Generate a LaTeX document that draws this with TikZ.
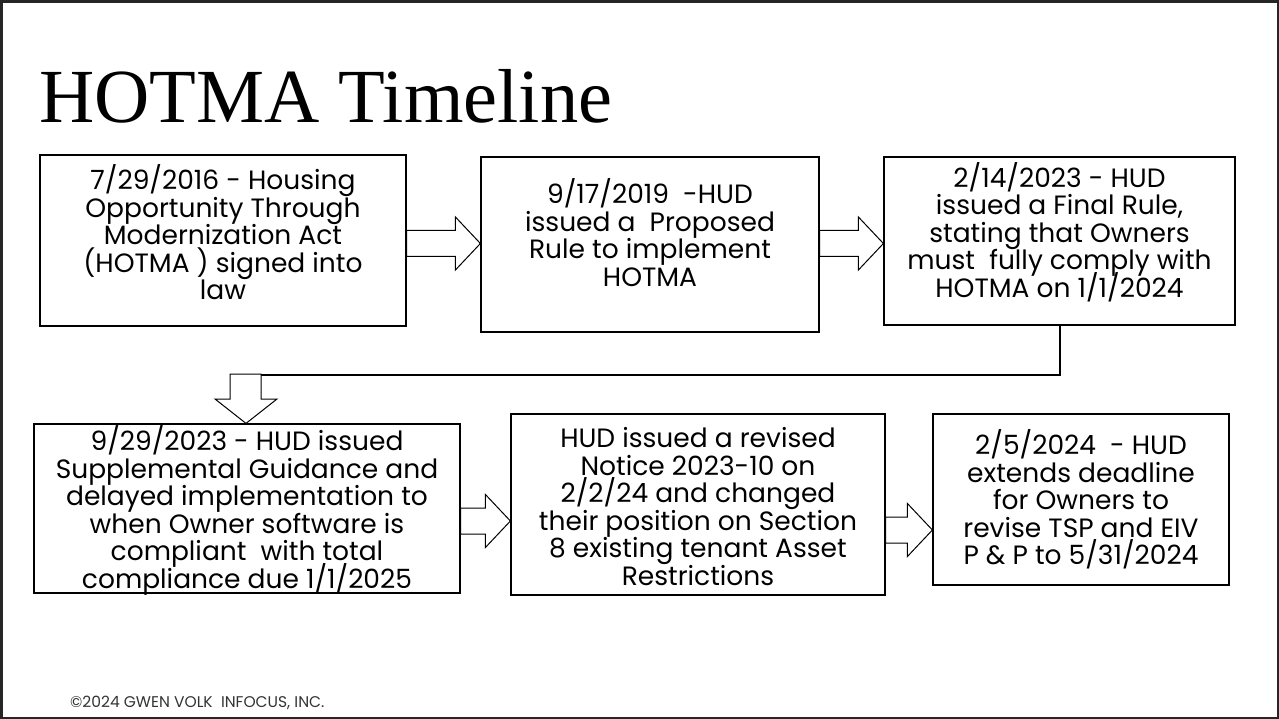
\documentclass[tikz,border=0pt]{standalone}
\usepackage{fontspec}
\setmainfont{Liberation Serif}
\newfontfamily\bodyfont{Poppins}
\usetikzlibrary{calc}
\newcommand\tightlines{\lineskiplimit=-40pt\relax\lineskip=0pt\relax}
\tikzset{
  x=1pt,y=-1pt,
  tbox/.style={draw=black,line width=1.2pt,inner sep=0pt},
  ttext/.style={inner sep=0pt,align=center,
    font=\bodyfont\fontsize{26.5}{27.5}\selectfont\tightlines},
  blk/.style={draw=black,line width=1pt,fill=white,line join=miter},
  elbow/.style={draw=black,line width=2pt},
}
\newcommand\harrow[3]{%
  \draw[blk] let \p1=(#1.east), \p2=(#2.west) in
    (\x1,{#3-13}) -- (\x2-25pt,{#3-13}) -- (\x2-25pt,{#3-26.5}) -- (\x2,{#3})
    -- (\x2-25pt,{#3+26.5}) -- (\x2-25pt,{#3+13}) -- (\x1,{#3+13}) -- cycle;}
\begin{document}
\begin{tikzpicture}
\useasboundingbox (0,0) rectangle (1279,719);
\draw[draw=black!85,line width=2.5pt] (1.25,1.5) rectangle (1277.75,717.75);
\node[anchor=base west,font=\fontsize{76.5}{76.5}\selectfont,inner sep=0pt] (title) at (39,123) {HOTMA Timeline};
% boxes
\node[tbox,minimum width=366,minimum height=171] (b1) at (223,240.5) {};
\node[tbox,minimum width=338,minimum height=175] (b2) at (650,244.5) {};
\node[tbox,minimum width=351,minimum height=168] (b3) at (1059.5,241) {};
\node[tbox,minimum width=426,minimum height=169] (b4) at (247,508.5) {};
\node[tbox,minimum width=374,minimum height=181] (b5) at (698,504.5) {};
\node[tbox,minimum width=296,minimum height=171] (b6) at (1081,499.5) {};
% texts
\node[ttext] (t1) at ($(b1.center)+(0,-8)$)
  {7/29/2016 - Housing\\Opportunity Through\\Modernization Act\\(HOTMA ) signed into\\law};
\node[ttext] (t2) at ($(b2.center)+(0,-12)$)
  {9/17/2019\ \ -HUD\\issued a\ \ Proposed\\Rule to implement\\HOTMA};
\node[ttext] (t3) at ($(b3.center)+(0,-9)$)
  {2/14/2023 - HUD\\issued a Final Rule,\\stating that Owners\\must\ \ fully comply with\\HOTMA on 1/1/2024};
\node[ttext] (t4) at ($(b4.center)+(0,2)$)
  {9/29/2023 - HUD issued\\Supplemental Guidance and\\delayed implementation to\\when Owner software is\\compliant\ \ with total\\compliance due 1/1/2025};
\node[ttext] (t5) at ($(b5.center)+(0,2)$)
  {HUD issued a revised\\Notice 2023-10 on\\2/2/24 and changed\\their position on Section\\8 existing tenant Asset\\Restrictions};
\node[ttext] (t6) at ($(b6.center)+(0,0)$)
  {2/5/2024\ \ - HUD\\extends deadline\\for Owners to\\revise TSP and EIV\\P \& P to 5/31/2024};
% block arrows
\harrow{b1}{b2}{243.5}
\harrow{b2}{b3}{243.5}
\harrow{b4}{b5}{521}
\harrow{b5}{b6}{530}
% elbow connector with down block arrow
\coordinate (elb) at ($(b3.south)+(0,49)$);
\draw[elbow] (b3.south) -- (elb) -- (elb -| 260,0);
\draw[blk] let \p1=(b4.north) in
  (\x1-17pt,374) -- (\x1+14pt,374) -- (\x1+14pt,399) -- (\x1+30pt,399) -- (\x1-1pt,\y1)
  -- (\x1-32pt,399) -- (\x1-17pt,399) -- cycle;
\node[anchor=base west,font=\bodyfont\fontsize{15.5}{15.5}\selectfont,text=black!80,inner sep=0pt] (foot) at (70,707) {©2024 GWEN VOLK\ \ INFOCUS, INC.};
\end{tikzpicture}
\end{document}
